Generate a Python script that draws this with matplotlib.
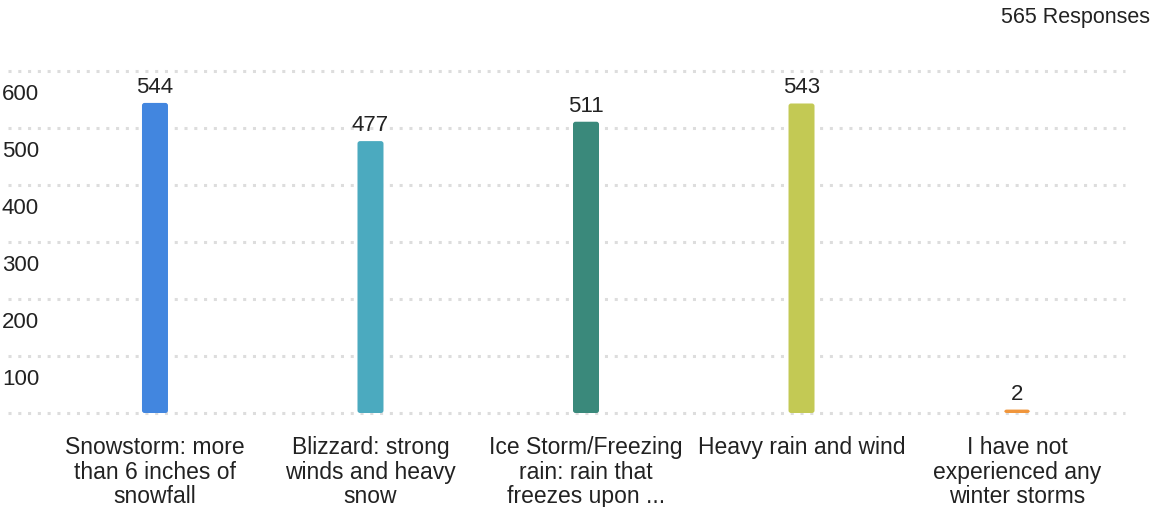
import numpy as np
import matplotlib.pyplot as plt
from matplotlib.patches import FancyBboxPatch

# Daten
categories = [
    "Snowstorm: more\nthan 6 inches of\nsnowfall",
    "Blizzard: strong\nwinds and heavy\nsnow",
    "Ice Storm/Freezing\nrain: rain that\nfreezes upon ...",
    "Heavy rain and wind",
    "I have not\nexperienced any\nwinter storms",
]
counts = [544, 477, 511, 543, 2]
colors = ["#4286DF", "#4BAABF", "#3A897B", "#C3C954", "#F0963C"]
y_ticks = [100, 200, 300, 400, 500, 600]
total_responses = 565

plt.rcParams["font.family"] = ["Liberation Sans", "DejaVu Sans"]
TEXT = "#222222"

fig = plt.figure(figsize=(11.52, 5.07), dpi=100)
ax = fig.add_axes([8 / 1152, 1 - 413 / 507, 1117 / 1152, (413 - 71) / 507])
ax.set_xlim(-0.682, 4.501)
ax.set_ylim(0, 600)

# Gitterlinien (gepunktet)
for y in [0] + y_ticks:
    ax.axhline(y, color="#DDDDDD", linestyle=(0, (1, 2.2)), linewidth=2.2,
               zorder=0, clip_on=False)

# Balken mit leicht abgerundeten Ecken (Mindesthöhe, damit kleine Werte sichtbar sind)
bar_w = 26 / 215.5
for i, (v, c) in enumerate(zip(counts, colors)):
    h = max(v, 6)
    patch = FancyBboxPatch((i - bar_w / 2, 0), bar_w, h,
                           boxstyle="round,pad=0,rounding_size=0.012",
                           mutation_aspect=600 / 342 * 215.5 / 1,
                           facecolor=c, edgecolor="none", zorder=2)
    ax.add_patch(patch)
    ax.annotate(str(v), (i, h), xytext=(0, 5), textcoords="offset pixels",
                ha="center", va="bottom", fontsize=16, color=TEXT)

# y-Beschriftungen unterhalb der Linien
for t in y_ticks:
    ax.annotate(str(t), (0, t), xycoords=("figure fraction", "data"),
                xytext=(2, -13), textcoords="offset pixels",
                ha="left", va="top", fontsize=16, color=TEXT)

# Kategorien
for i, lab in enumerate(categories):
    ax.annotate(lab, (i, 0), xytext=(0, -23), textcoords="offset pixels",
                ha="center", va="top", fontsize=16.5, color=TEXT,
                linespacing=1.09)

ax.set_xticks([])
ax.set_yticks([])
for s in ax.spines.values():
    s.set_visible(False)

fig.text(1150 / 1152, 1 - 17 / 507, f"{total_responses} Responses",
         ha="right", va="center", fontsize=15.5, color=TEXT)

fig.savefig("out.png", dpi=100)
